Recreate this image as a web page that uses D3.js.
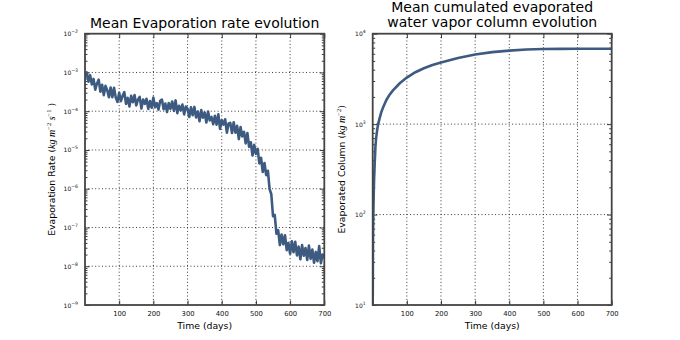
<!DOCTYPE html>
<html>
<head>
<meta charset="utf-8">
<script src="https://cdn.jsdelivr.net/npm/d3@7"></script>
<style>
  html, body { margin: 0; padding: 0; background: #fff; }
  svg { display: block; font-family: "DejaVu Sans", sans-serif; }
</style>
</head>
<body>
<svg id="chart" width="680" height="340"></svg>
<script>
// ---------------- DATA ----------------
const rateDays = [
  0,5,10,15,20,25,30,35,40,45,
  50,55,60,65,70,75,80,85,90,95,
  100,105,110,115,120,125,130,135,140,145,
  150,155,160,165,170,175,180,185,190,195,
  200,205,210,215,220,225,230,235,240,245,
  250,255,260,265,270,275,280,285,290,295,
  300,305,310,315,320,325,330,335,340,345,
  350,355,360,365,370,375,380,385,390,395,
  400,405,410,415,420,425,430,435,440,445,
  450,455,460,465,470,475,480,485,490,495,
  500,505,510,515,520,525,530,535,540,545,
  550,555,560,565,570,575,580,585,590,595,
  600,605,610,615,620,625,630,635,640,645,
  650,655,660,665,670,675,680,685,690,695,
  700
];
const rateValues = [
  8.5e-4, 1.0e-3, 5.8e-4, 8.5e-4, 4.9e-4, 6.8e-4, 3.6e-4, 5.2e-4, 6.5e-4, 3.2e-4,
  4.8e-4, 2.6e-4, 4.5e-4, 3.5e-4, 2.3e-4, 4.1e-4, 2.3e-4, 4.0e-4, 2.24e-4, 1.74e-4,
  3.0e-4, 1.82e-4, 2.5e-4, 3.1e-4, 1.55e-4, 2.2e-4, 1.32e-4, 2.5e-4, 1.7e-4, 2.6e-4,
  1.41e-4, 2.0e-4, 2.34e-4, 1.17e-4, 2.0e-4, 1.55e-4, 2.1e-4, 1.15e-4, 1.82e-4, 1.23e-4,
  2.24e-4, 1.26e-4, 1.62e-4, 1.1e-4, 1.86e-4, 2.0e-4, 1.12e-4, 1.58e-4, 9.5e-5, 1.62e-4,
  1.15e-4, 1.78e-4, 1.02e-4, 1.9e-4, 8.9e-5, 1.38e-4, 1.05e-4, 1.48e-4, 8.3e-5, 1.32e-4,
  1.15e-4, 7.1e-5, 1.26e-4, 7.9e-5, 1.29e-4, 6.9e-5, 9.8e-5, 5.5e-5, 1.07e-4, 6.8e-5,
  9.3e-5, 5.1e-5, 9.8e-5, 5.8e-5, 7.1e-5, 4.6e-5, 7.6e-5, 4.5e-5, 8.3e-5, 3.5e-5,
  5.9e-5, 4.5e-5, 6.2e-5, 2.8e-5, 4.8e-5, 5.0e-5, 2.75e-5, 5.2e-5, 2.8e-5, 4.2e-5,
  1.9e-5, 3.9e-5, 2.24e-5, 2.95e-5, 1.48e-5, 2.75e-5, 1.2e-5, 1.58e-5, 7.2e-6, 1.35e-5,
  7.9e-6, 1.07e-5, 4.5e-6, 6.3e-6, 2.7e-6, 4.6e-6, 2.24e-6, 2.9e-6, 9.8e-7, 7.2e-7,
  1.95e-7, 2.1e-7, 6.9e-8, 8.5e-8, 3.5e-8, 6.6e-8, 3.7e-8, 6.3e-8, 2.6e-8, 4.0e-8,
  2.1e-8, 4.4e-8, 2.3e-8, 4.3e-8, 1.9e-8, 3.2e-8, 1.51e-8, 3.5e-8, 1.86e-8, 2.95e-8,
  1.45e-8, 3.4e-8, 1.55e-8, 2.7e-8, 1.23e-8, 2.34e-8, 1.35e-8, 3.3e-8, 1.2e-8, 2.0e-8,
  1.6e-8
];

const columnDays = [0,1,2,3,4,6,8,10,13,16,20,25,30,40,50,60,80,100,125,150,175,200,250,300,350,400,450,500,550,600,650,700];
const columnValues = [10,60,110,170,240,380,560,700,860,1000,1150,1350,1520,1850,2130,2380,2850,3270,3750,4150,4500,4800,5400,5900,6250,6500,6680,6770,6800,6810,6810,6810];

const xTickValues = [100,200,300,400,500,600,700];
const rateDecades = [1e-9,1e-8,1e-7,1e-6,1e-5,1e-4,1e-3,1e-2];
const columnDecades = [1e1,1e2,1e3,1e4];

const leftTitle = ["Mean Evaporation rate evolution"];
const rightTitle = ["Mean cumulated evaporated", "water vapor column evolution"];
const xLabel = "Time (days)";

// ---------------- DRAW ----------------
const svg = d3.select("#chart");
const lineColor = "#3d5b80";

function drawPanel(o) {
  const x = d3.scaleLinear().domain([0, 700]).range([o.x0, o.x1]);
  const y = d3.scaleLog().domain(o.yDomain).range([o.y1, o.y0]);
  const g = svg.append("g");
  const w = o.x1 - o.x0, h = o.y1 - o.y0;

  // grid
  const gridX = xTickValues.filter(v => v < 700);
  g.append("g").selectAll("line").data(gridX).join("line")
    .attr("x1", d => x(d)).attr("x2", d => x(d))
    .attr("y1", o.y0).attr("y2", o.y1)
    .attr("stroke", "#222").attr("stroke-width", 0.9).attr("stroke-dasharray", "1,2.4");
  const gridY = o.decades.filter(v => v > o.yDomain[0] && v < o.yDomain[1]);
  g.append("g").selectAll("line").data(gridY).join("line")
    .attr("x1", o.x0).attr("x2", o.x1)
    .attr("y1", d => y(d)).attr("y2", d => y(d))
    .attr("stroke", "#222").attr("stroke-width", 0.9).attr("stroke-dasharray", "1,2.4");

  // minor ticks
  const minors = [];
  o.decades.forEach(dv => { for (let k = 2; k <= 9; k++) { const v = dv * k; if (v < o.yDomain[1]) minors.push(v); } });

  const tickColor = "#222";
  g.append("g").attr("transform", `translate(${o.x0},0)`)
    .call(d3.axisLeft(y).tickValues(o.decades).tickSizeInner(-4.5).tickSizeOuter(0).tickFormat(""))
    .call(s => s.select(".domain").remove());
  g.append("g").attr("transform", `translate(${o.x0},0)`)
    .call(d3.axisLeft(y).tickValues(minors).tickSizeInner(-2.5).tickSizeOuter(0).tickFormat(""))
    .call(s => s.select(".domain").remove());
  g.append("g").attr("transform", `translate(${o.x1},0)`)
    .call(d3.axisRight(y).tickValues(o.decades).tickSizeInner(-4.5).tickSizeOuter(0).tickFormat(""))
    .call(s => s.select(".domain").remove());
  g.append("g").attr("transform", `translate(${o.x1},0)`)
    .call(d3.axisRight(y).tickValues(minors).tickSizeInner(-2.5).tickSizeOuter(0).tickFormat(""))
    .call(s => s.select(".domain").remove());
  const bx = g.append("g").attr("transform", `translate(0,${o.y1})`)
    .call(d3.axisBottom(x).tickValues(xTickValues).tickSizeInner(-4.5).tickSizeOuter(0).tickPadding(6));
  bx.select(".domain").remove();
  bx.selectAll("text").attr("font-size", 6.8).attr("fill", "#111").attr("font-family", "DejaVu Sans");
  g.append("g").attr("transform", `translate(0,${o.y0})`)
    .call(d3.axisTop(x).tickValues(xTickValues).tickSizeInner(-4.5).tickSizeOuter(0).tickFormat(""))
    .call(s => s.select(".domain").remove());
  g.selectAll(".tick line").attr("stroke", tickColor).attr("stroke-width", 0.9);

  // y tick labels 10^n
  const lab = g.append("g").selectAll("text").data(o.decades).join("text")
    .attr("x", o.x0 - 7).attr("y", d => y(d) + 2.5)
    .attr("text-anchor", "end").attr("font-size", 6).attr("fill", "#111");
  lab.append("tspan").text("10");
  lab.append("tspan").attr("dy", -3).attr("font-size", 4.6)
    .text(d => { const e = Math.round(Math.log10(d)); return e < 0 ? "\u2212" + (-e) : String(e); });

  // data line
  const clipId = "clip" + o.id;
  svg.append("clipPath").attr("id", clipId).append("rect")
    .attr("x", o.x0).attr("y", o.y0).attr("width", w).attr("height", h);
  const line = d3.line().x(d => x(d[0])).y(d => y(d[1]));
  g.append("path").datum(d3.zip(o.days, o.values))
    .attr("clip-path", `url(#${clipId})`)
    .attr("fill", "none").attr("stroke", lineColor).attr("stroke-width", 2.6)
    .attr("stroke-linejoin", "round")
    .attr("d", line);

  // spines
  g.append("rect").attr("x", o.x0).attr("y", o.y0).attr("width", w).attr("height", h)
    .attr("fill", "none").attr("stroke", "#444").attr("stroke-width", 1.8);

  // titles
  const cx = (o.x0 + o.x1) / 2;
  o.title.forEach((t, i) => {
    g.append("text").attr("x", cx).attr("y", o.titleY + i * 14.6)
      .attr("text-anchor", "middle").attr("font-size", 14).attr("fill", "#000").text(t);
  });
  g.append("text").attr("x", cx).attr("y", 328.5)
    .attr("text-anchor", "middle").attr("font-size", 9.3).attr("fill", "#000").text(xLabel);

  // y label
  const yl = g.append("text")
    .attr("transform", `translate(${o.ylx},${(o.y0 + o.y1) / 2}) rotate(-90)`)
    .attr("text-anchor", "middle").attr("font-size", 9.3).attr("fill", "#000");
  o.ylabel(yl);
}

function mathUnits(t, parts) {
  parts.forEach(p => {
    const s = t.append("tspan").text(p.t);
    if (p.it) s.attr("font-family", "Liberation Serif, DejaVu Serif, serif").attr("font-style", "italic").attr("font-size", 10);
    if (p.sup) s.attr("dy", -4).attr("font-size", 6.5).attr("font-family", "Liberation Serif, DejaVu Serif, serif");
    if (p.down) s.attr("dy", 4);
  });
}

drawPanel({
  id: "L", x0: 85, x1: 324.3, y0: 33.7, y1: 305,
  yDomain: [1e-9, 1e-2], decades: rateDecades,
  days: rateDays, values: rateValues, title: leftTitle, titleY: 28.3, ylx: 55,
  ylabel: t => mathUnits(t, [
    { t: "Evaporation Rate (" }, { t: "kg m", it: true }, { t: "\u22122", sup: true },
    { t: " s", it: true, down: true }, { t: "\u22121", sup: true }, { t: " )", down: true }
  ])
});
drawPanel({
  id: "R", x0: 372.7, x1: 611.7, y0: 33.7, y1: 305,
  yDomain: [1e1, 1e4], decades: columnDecades,
  days: columnDays, values: columnValues, title: rightTitle, titleY: 12.3, ylx: 345,
  ylabel: t => mathUnits(t, [
    { t: "Evaporated Column (" }, { t: "kg m", it: true }, { t: "\u22122", sup: true }, { t: ")", down: true }
  ])
});
</script>
</body>
</html>
